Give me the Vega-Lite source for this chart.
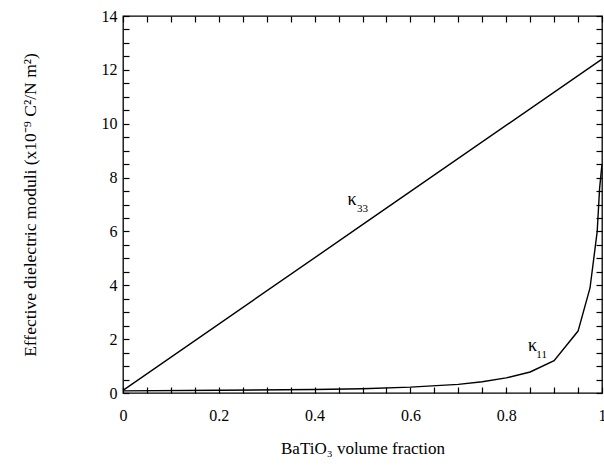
{
  "$schema": "https://vega.github.io/schema/vega-lite/v6.json",
  "width": 479,
  "height": 377,
  "autosize": {"type": "none"},
  "padding": {"left": 123, "top": 16, "right": 2, "bottom": 75},
  "background": "white",
  "config": {
    "font": "Liberation Serif",
    "view": {"stroke": "black", "strokeWidth": 1.3},
    "axis": {
      "domain": false,
      "grid": false,
      "tickColor": "black",
      "tickWidth": 1.2,
      "labelColor": "black",
      "titleColor": "black",
      "labelFont": "Liberation Serif",
      "titleFont": "Liberation Serif",
      "titleFontWeight": "normal",
      "zindex": 1
    }
  },
  "datasets": {
    "curves": [
      {"series": "k33", "fraction": 0.0, "modulus": 0.1},
      {"series": "k33", "fraction": 0.5, "modulus": 6.25},
      {"series": "k33", "fraction": 1.0, "modulus": 12.4},
      {"series": "k11", "fraction": 0.0, "modulus": 0.08},
      {"series": "k11", "fraction": 0.2, "modulus": 0.1},
      {"series": "k11", "fraction": 0.4, "modulus": 0.13},
      {"series": "k11", "fraction": 0.5, "modulus": 0.16},
      {"series": "k11", "fraction": 0.6, "modulus": 0.22},
      {"series": "k11", "fraction": 0.7, "modulus": 0.32},
      {"series": "k11", "fraction": 0.75, "modulus": 0.42},
      {"series": "k11", "fraction": 0.8, "modulus": 0.56},
      {"series": "k11", "fraction": 0.85, "modulus": 0.78},
      {"series": "k11", "fraction": 0.9, "modulus": 1.2},
      {"series": "k11", "fraction": 0.95, "modulus": 2.3},
      {"series": "k11", "fraction": 0.975, "modulus": 3.9},
      {"series": "k11", "fraction": 0.99, "modulus": 6.0},
      {"series": "k11", "fraction": 0.995, "modulus": 7.6},
      {"series": "k11", "fraction": 1.0, "modulus": 8.5}
    ],
    "labels": [
      {"text": "κ", "fraction": 0.478, "modulus": 7.18, "kind": "main"},
      {"text": "33", "fraction": 0.50, "modulus": 6.84, "kind": "sub"},
      {"text": "κ", "fraction": 0.855, "modulus": 1.75, "kind": "main"},
      {"text": "11", "fraction": 0.874, "modulus": 1.41, "kind": "sub"}
    ]
  },
  "layer": [
    {
      "data": {"name": "curves"},
      "mark": {"type": "line", "color": "black", "strokeWidth": 1.4, "clip": true},
      "encoding": {
        "x": {
          "field": "fraction", "type": "quantitative",
          "scale": {"domain": [0, 1], "nice": false, "zero": false},
          "axis": {
            "orient": "bottom",
            "title": "BaTiO₃ volume fraction",
            "titleFontSize": 17,
            "titlePadding": 17,
            "labelFontSize": 16,
            "values": [0,0.05,0.1,0.15,0.2,0.25,0.3,0.35,0.4,0.45,0.5,0.55,0.6,0.65,0.7,0.75,0.8,0.85,0.9,0.95,1],
            "format": ".2~f",
            "labelExpr": "indexof(['0','0.2','0.4','0.6','0.8','1'], datum.label) >= 0 ? datum.label : ''",
            "labelFlush": false,
            "labelOverlap": false,
            "labelPadding": 14,
            "tickSize": 6,
            "offset": -6
          }
        },
        "y": {
          "field": "modulus", "type": "quantitative",
          "scale": {"domain": [0, 14], "nice": false, "zero": false},
          "axis": {
            "orient": "left",
            "title": "Effective dielectric moduli (x10⁻⁹ C²/N m²)",
            "titleFontSize": 17.5,
            "titlePadding": 62,
            "labelFontSize": 16,
            "values": [0,0.5,1,1.5,2,2.5,3,3.5,4,4.5,5,5.5,6,6.5,7,7.5,8,8.5,9,9.5,10,10.5,11,11.5,12,12.5,13,13.5,14],
            "format": "~g",
            "labelExpr": "datum.value % 2 == 0 ? datum.label : ''",
            "labelFlush": false,
            "labelOverlap": false,
            "labelPadding": 6,
            "tickSize": 6,
            "offset": -6
          }
        },
        "detail": {"field": "series"}
      }
    },
    {
      "data": {"name": "labels"},
      "mark": {"type": "text", "color": "black", "font": "Liberation Serif"},
      "encoding": {
        "x": {"field": "fraction", "type": "quantitative",
          "axis": {
            "orient": "top", "title": null, "labels": false,
            "values": [0,0.05,0.1,0.15,0.2,0.25,0.3,0.35,0.4,0.45,0.5,0.55,0.6,0.65,0.7,0.75,0.8,0.85,0.9,0.95,1],
            "tickSize": 6,
            "offset": -6
          }
        },
        "y": {"field": "modulus", "type": "quantitative",
          "axis": {
            "orient": "right", "title": null, "labels": false,
            "values": [0,0.5,1,1.5,2,2.5,3,3.5,4,4.5,5,5.5,6,6.5,7,7.5,8,8.5,9,9.5,10,10.5,11,11.5,12,12.5,13,13.5,14],
            "tickSize": 6,
            "offset": -6
          }
        },
        "text": {"field": "text"},
        "size": {"field": "kind", "type": "nominal", "scale": {"domain": ["main", "sub"], "range": [18, 11]}, "legend": null}
      }
    }
  ],
  "resolve": {"axis": {"x": "independent", "y": "independent"}}
}
